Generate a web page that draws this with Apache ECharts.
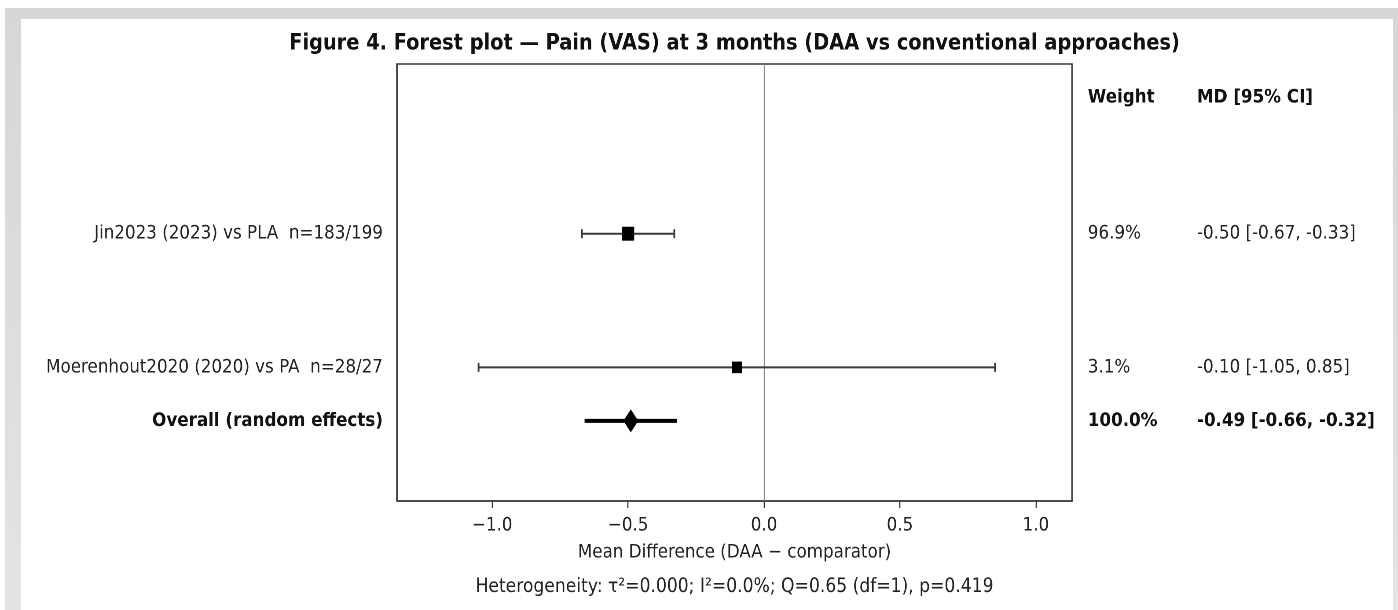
<!DOCTYPE html>
<html>
<head>
<meta charset="utf-8">
<script src="https://cdn.jsdelivr.net/npm/echarts@6/dist/echarts.min.js"></script>
<style>
  html, body { margin: 0; padding: 0; background: #ffffff; width: 1398px; height: 610px; overflow: hidden; }
  #frame { position: absolute; left: 5px; top: 8px; right: 0; bottom: -20px; background: linear-gradient(to bottom, #d4d6d7, #e2e4e5); }
  #paper { position: absolute; left: 21px; top: 19px; width: 1372px; bottom: -20px; background: #ffffff; }
  #chart { position: absolute; left: 0; top: 0; height: 610px; transform-origin: 0 0; }
</style>
</head>
<body>
<div id="frame"></div>
<div id="paper"></div>
<div id="chart"></div>
<script>
// ---------------- data ----------------
const TITLE = 'Figure 4. Forest plot — Pain (VAS) at 3 months (DAA vs conventional approaches)';
const X_TITLE = 'Mean Difference (DAA − comparator)';
const FOOTNOTE = 'Heterogeneity: τ²=0.000; I²=0.0%; Q=0.65 (df=1), p=0.419';
const HEADER_WEIGHT = 'Weight';
const HEADER_MD = 'MD [95% CI]';

const STUDY_LABELS = ['Jin2023 (2023) vs PLA  n=183/199', 'Moerenhout2020 (2020) vs PA  n=28/27'];
const STUDY_MD = [-0.50, -0.10];
const STUDY_LO = [-0.67, -1.05];
const STUDY_HI = [-0.33, 0.85];
const STUDY_WEIGHT = [96.9, 3.1];
const STUDY_ROW = [2, 1];

const OVERALL_LABEL = 'Overall (random effects)';
const OVERALL_MD = [-0.49];
const OVERALL_LO = [-0.66];
const OVERALL_HI = [-0.32];
const OVERALL_WEIGHT = [100.0];
const OVERALL_ROW = [0.6];

const HEADER_ROW = 3.02;
const X_TICKS = [-1.0, -0.5, 0.0, 0.5, 1.0];
const X_MIN = -1.35, X_MAX = 1.133;
const Y_MIN = 0, Y_MAX = 3.27;

// ---------------- layout ----------------
const SX = 0.88;                 // horizontal squeeze of the original figure
const W = Math.round(1398 / SX);
const H = 610;
const FONT = 'DejaVu Sans';
const GRID_L = 397 / SX, GRID_R = 1072 / SX, GRID_T = 64, GRID_B = 501;

const el = document.getElementById('chart');
el.style.width = W + 'px';
el.style.transform = 'scaleX(' + SX + ')';

const fmt2 = v => v.toFixed(2);
const mdText = (m, l, h) => fmt2(m) + ' [' + fmt2(l) + ', ' + fmt2(h) + ']';

const studyData = STUDY_MD.map((m, i) => [m, STUDY_LO[i], STUDY_HI[i], STUDY_ROW[i], STUDY_WEIGHT[i], i]);
const overallData = OVERALL_MD.map((m, i) => [m, OVERALL_LO[i], OVERALL_HI[i], OVERALL_ROW[i], OVERALL_WEIGHT[i], i]);

function sideTexts(cs, y, label, weight, md, bold) {
  const base = { fontFamily: FONT, fontSize: 19, fontWeight: bold ? 'bold' : 'normal', fill: bold ? '#111' : '#222', verticalAlign: 'middle' };
  return [
    { type: 'text', style: Object.assign({}, base, { text: label, x: cs.x - 16, y: y, align: 'right' }) },
    { type: 'text', style: Object.assign({}, base, { text: weight, x: cs.x + cs.width + 18, y: y, align: 'left' }) },
    { type: 'text', style: Object.assign({}, base, { text: md, x: cs.x + cs.width + 142, y: y, align: 'left' }) }
  ];
}

function renderStudy(params, api) {
  const cs = params.coordSys;
  const i = api.value(5);
  const pm = api.coord([api.value(0), api.value(3)]);
  const pl = api.coord([api.value(1), api.value(3)]);
  const ph = api.coord([api.value(2), api.value(3)]);
  const size = 11.5 + 2.5 * api.value(4) / 100;
  const lineStyle = { stroke: '#383838', lineWidth: 2 };
  const children = [
    { type: 'line', shape: { x1: pl[0], y1: pl[1], x2: ph[0], y2: ph[1] }, style: lineStyle },
    { type: 'line', shape: { x1: pl[0], y1: pl[1] - 4.5, x2: pl[0], y2: pl[1] + 4.5 }, style: lineStyle },
    { type: 'line', shape: { x1: ph[0], y1: ph[1] - 4.5, x2: ph[0], y2: ph[1] + 4.5 }, style: lineStyle },
    { type: 'rect', shape: { x: pm[0] - size / 2, y: pm[1] - size / 2, width: size, height: size }, style: { fill: '#000' } }
  ].concat(sideTexts(cs, pm[1], STUDY_LABELS[i], STUDY_WEIGHT[i].toFixed(1) + '%', mdText(STUDY_MD[i], STUDY_LO[i], STUDY_HI[i]), false));
  return { type: 'group', children: children };
}

function renderOverall(params, api) {
  const cs = params.coordSys;
  const i = api.value(5);
  const pm = api.coord([api.value(0), api.value(3)]);
  const pl = api.coord([api.value(1), api.value(3)]);
  const ph = api.coord([api.value(2), api.value(3)]);
  const hw = 8.5, hh = 11.5;
  const children = [
    { type: 'line', shape: { x1: pl[0], y1: pl[1], x2: ph[0], y2: ph[1] }, style: { stroke: '#000', lineWidth: 4 } },
    { type: 'polygon', shape: { points: [[pm[0], pm[1] - hh], [pm[0] + hw, pm[1]], [pm[0], pm[1] + hh], [pm[0] - hw, pm[1]]] }, style: { fill: '#000' } }
  ].concat(sideTexts(cs, pm[1], OVERALL_LABEL, OVERALL_WEIGHT[i].toFixed(1) + '%', mdText(OVERALL_MD[i], OVERALL_LO[i], OVERALL_HI[i]), true));
  return { type: 'group', children: children };
}

function renderHeader(params, api) {
  const cs = params.coordSys;
  const p = api.coord([X_MIN, api.value(0)]);
  const base = { fontFamily: FONT, fontSize: 19, fontWeight: 'bold', fill: '#111', verticalAlign: 'middle', align: 'left' };
  return { type: 'group', children: [
    { type: 'text', style: Object.assign({}, base, { text: HEADER_WEIGHT, x: cs.x + cs.width + 18, y: p[1] }) },
    { type: 'text', style: Object.assign({}, base, { text: HEADER_MD, x: cs.x + cs.width + 142, y: p[1] }) }
  ] };
}

const chart = echarts.init(el, null, { renderer: 'canvas', width: W, height: H, devicePixelRatio: 2 });
const cx = (GRID_L + GRID_R) / 2;
chart.setOption({
  animation: false,
  backgroundColor: 'transparent',
  textStyle: { fontFamily: FONT },
  title: [
    { text: TITLE, left: cx, top: 33, textAlign: 'center', padding: 0,
      textStyle: { fontFamily: FONT, fontSize: 22, fontWeight: 'bold', color: '#111' } },
    { text: FOOTNOTE, left: cx, top: 577, textAlign: 'center', padding: 0,
      textStyle: { fontFamily: FONT, fontSize: 19.5, fontWeight: 'normal', color: '#222' } }
  ],
  grid: { left: GRID_L, top: GRID_T, width: GRID_R - GRID_L, height: GRID_B - GRID_T,
          show: true, borderColor: '#333', borderWidth: 1.5, backgroundColor: 'transparent' },
  xAxis: {
    type: 'value', min: X_MIN, max: X_MAX,
    axisLine: { show: true, onZero: false, lineStyle: { color: '#333', width: 1.5 } },
    axisTick: { show: true, length: 7, customValues: X_TICKS, lineStyle: { color: '#333', width: 1.3 } },
    axisLabel: { customValues: X_TICKS, fontFamily: FONT, fontSize: 19, color: '#222', margin: 15,
                 formatter: v => (v < 0 ? '−' : '') + Math.abs(v).toFixed(1) },
    splitLine: { show: false },
    name: X_TITLE, nameLocation: 'middle', nameGap: 42,
    nameTextStyle: { fontFamily: FONT, fontSize: 19, color: '#222' }
  },
  yAxis: {
    type: 'value', min: Y_MIN, max: Y_MAX,
    axisLine: { show: true, onZero: false, lineStyle: { color: '#333', width: 1.5 } },
    axisTick: { show: false }, axisLabel: { show: false }, splitLine: { show: false }
  },
  series: [
    { type: 'custom', name: 'studies', renderItem: renderStudy, data: studyData, clip: false, z: 3,
      encode: { x: [0, 1, 2], y: 3 },
      markLine: { silent: true, symbol: 'none', label: { show: false }, z: 1,
                  lineStyle: { color: '#8a8a8a', width: 1.2, type: 'solid' }, data: [{ xAxis: 0 }] } },
    { type: 'custom', name: 'overall', renderItem: renderOverall, data: overallData, clip: false, z: 3,
      encode: { x: [0, 1, 2], y: 3 } },
    { type: 'custom', name: 'header', renderItem: renderHeader, data: [[HEADER_ROW]], clip: false,
      encode: { y: 0 } }
  ]
});
</script>
</body>
</html>
